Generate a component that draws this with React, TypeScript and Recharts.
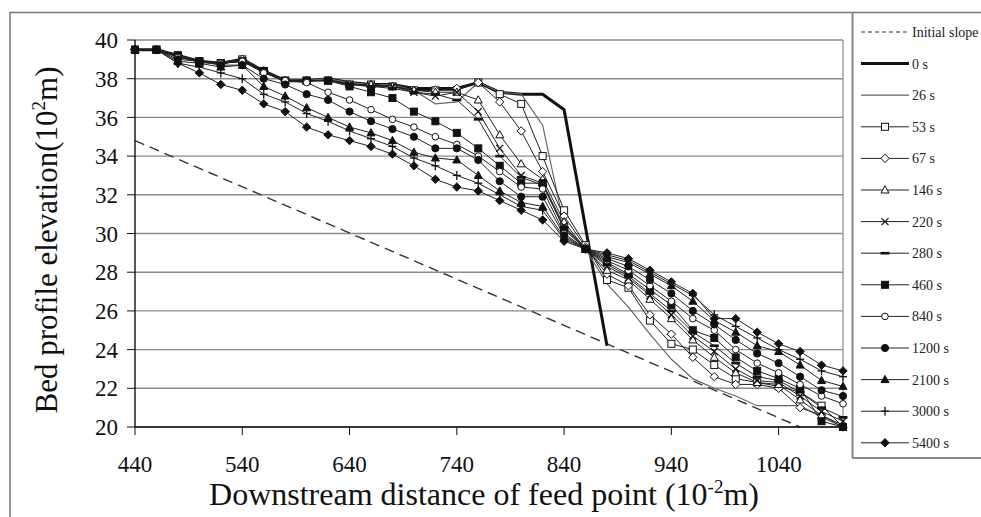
import React from 'react';
import { LineChart, Line, XAxis, YAxis, CartesianGrid, ReferenceLine } from 'recharts';

// Downstream distance categories (10^-2 m)
const X = [440, 460, 480, 500, 520, 540, 560, 580, 600, 620, 640, 660, 680, 700, 720, 740, 760,
  780, 800, 820, 840, 860, 880, 900, 920, 940, 960, 980, 1000, 1020, 1040, 1060, 1080, 1100];
const X_TICKS = [440, 540, 640, 740, 840, 940, 1040];
const Y_TICKS = [20, 22, 24, 26, 28, 30, 32, 34, 36, 38, 40];

// Initial slope (dashed straight line end points)
const SLOPE_X = [440, 1060];
const SLOPE_Y = [34.8, 20.0];

const N = null;
const t0 = [39.5, 39.5, 39.2, 38.9, 38.8, 39.0, 38.4, 37.9, 37.9, 38.0, 37.8, 37.7, 37.7, 37.5, 37.5, 37.5, 37.8, 37.3, 37.2, 37.2, 36.4, N, 24.2, N, N, N, N, N, N, N, N, N, N, N];
const t26 = [39.5, 39.5, 39.2, 38.9, 38.8, 39.0, 38.4, 37.9, 37.9, 38.0, 37.8, 37.7, 37.7, 37.4, 36.7, 36.8, 37.8, 37.3, 37.2, 35.6, 30.4, 29.2, 27.4, 26.2, 24.8, 23.5, 22.5, 22.0, 21.6, 21.1, 21.1, 21.1, 20.5, 20.0];
const t53 = [39.5, 39.5, 39.2, 38.9, 38.8, 39.0, 38.4, 37.9, 37.9, 37.9, 37.7, 37.7, 37.6, 37.4, 37.4, 37.4, 37.8, 37.2, 36.7, 34.0, 31.2, 29.4, 27.6, 27.2, 25.5, 24.3, 24.0, 23.2, 22.5, 22.3, 22.1, 21.8, 21.1, 20.0];
const t67 = [39.5, 39.5, 39.2, 38.9, 38.8, 39.0, 38.4, 37.9, 37.9, 37.9, 37.7, 37.7, 37.6, 37.4, 37.4, 37.5, 37.8, 36.8, 35.3, 33.2, 30.9, 29.3, 27.9, 27.3, 25.8, 24.8, 23.6, 22.6, 22.2, 22.2, 22.0, 21.0, 20.6, 20.0];
const t146 = [39.5, 39.5, 39.2, 38.9, 38.8, 38.9, 38.4, 37.9, 37.9, 37.9, 37.7, 37.7, 37.6, 37.4, 37.3, 37.3, 36.9, 35.1, 33.6, 32.8, 30.6, 29.2, 28.1, 27.6, 26.6, 25.6, 24.5, 23.6, 22.8, 22.3, 22.2, 21.4, 20.6, 20.1];
const t220 = [39.5, 39.5, 39.2, 38.9, 38.8, 38.9, 38.4, 37.9, 37.9, 37.9, 37.7, 37.6, 37.6, 37.3, 37.1, 37.3, 36.3, 34.4, 33.0, 32.6, 30.4, 29.2, 28.3, 27.7, 26.8, 25.8, 24.7, 23.9, 23.0, 22.4, 22.3, 21.6, 20.8, 20.3];
const t280 = [39.5, 39.5, 39.2, 38.9, 38.8, 38.9, 38.4, 37.9, 37.9, 37.9, 37.7, 37.6, 37.5, 37.3, 37.2, 36.9, 35.9, 34.0, 32.9, 32.5, 30.3, 29.2, 28.4, 27.8, 26.9, 26.0, 24.9, 24.2, 23.3, 22.6, 22.4, 21.8, 21.0, 20.5];
const t460 = [39.5, 39.5, 39.2, 38.9, 38.8, 38.9, 38.4, 37.9, 37.9, 37.9, 37.6, 37.3, 37.0, 36.3, 35.8, 35.2, 34.4, 33.5, 32.6, 32.6, 30.2, 29.2, 28.5, 27.9, 27.1, 26.3, 25.0, 24.6, 23.6, 22.9, 22.5, 22.0, 20.3, 20.0];
const t840 = [39.5, 39.5, 39.1, 38.9, 38.8, 38.9, 38.3, 37.9, 37.8, 37.3, 36.9, 36.4, 35.9, 35.5, 35.0, 34.6, 34.0, 33.2, 32.4, 32.3, 30.0, 29.2, 28.6, 28.1, 27.3, 26.5, 25.6, 25.0, 24.0, 23.3, 22.8, 22.2, 21.6, 21.2];
const t1200 = [39.5, 39.5, 39.0, 38.9, 38.7, 38.7, 38.0, 37.7, 37.2, 36.9, 36.3, 35.8, 35.4, 35.0, 34.4, 34.4, 33.8, 32.7, 31.9, 31.9, 29.9, 29.2, 28.7, 28.3, 27.6, 26.9, 26.0, 25.3, 24.5, 23.8, 23.3, 22.6, 21.9, 21.6];
const t2100 = [39.5, 39.5, 38.9, 38.8, 38.6, 38.7, 37.6, 37.1, 36.5, 36.0, 35.5, 35.2, 34.8, 34.2, 33.9, 33.8, 33.0, 32.2, 31.6, 31.4, 29.8, 29.2, 28.8, 28.5, 27.9, 27.3, 26.5, 25.5, 24.9, 24.2, 23.9, 23.2, 22.4, 22.1];
const t3000 = [39.5, 39.5, 38.8, 38.6, 38.3, 38.0, 37.2, 36.8, 36.2, 35.8, 35.3, 34.9, 34.5, 33.9, 33.5, 33.0, 32.6, 32.0, 31.4, 31.2, 29.7, 29.2, 28.9, 28.6, 28.0, 27.4, 26.8, 25.8, 25.2, 24.6, 24.0, 23.5, 22.9, 22.6];
const t5400 = [39.5, 39.5, 38.8, 38.3, 37.7, 37.4, 36.7, 36.3, 35.5, 35.1, 34.8, 34.5, 34.1, 33.5, 32.8, 32.4, 32.2, 31.7, 31.2, 30.7, 29.6, 29.2, 29.0, 28.7, 28.1, 27.5, 26.9, 25.6, 25.6, 24.9, 24.3, 23.9, 23.2, 22.9];

const SERIES = [
  { name: '0 s', values: t0, shape: 'none', stroke: '#111', width: 3 },
  { name: '26 s', values: t26, shape: 'none', stroke: '#666', width: 1.2 },
  { name: '53 s', values: t53, shape: 'sqOpen', stroke: '#222', width: 1 },
  { name: '67 s', values: t67, shape: 'diaOpen', stroke: '#222', width: 1 },
  { name: '146 s', values: t146, shape: 'triOpen', stroke: '#222', width: 1 },
  { name: '220 s', values: t220, shape: 'x', stroke: '#222', width: 1 },
  { name: '280 s', values: t280, shape: 'dash', stroke: '#222', width: 1 },
  { name: '460 s', values: t460, shape: 'sqFill', stroke: '#222', width: 1 },
  { name: '840 s', values: t840, shape: 'circOpen', stroke: '#222', width: 1 },
  { name: '1200 s', values: t1200, shape: 'circFill', stroke: '#222', width: 1 },
  { name: '2100 s', values: t2100, shape: 'triFill', stroke: '#222', width: 1 },
  { name: '3000 s', values: t3000, shape: 'plus', stroke: '#222', width: 1 },
  { name: '5400 s', values: t5400, shape: 'diaFill', stroke: '#222', width: 1 },
];

const FONT = 'Liberation Serif, Times New Roman, serif';

function Marker({ shape, cx, cy }: { shape: string; cx: number; cy: number }) {
  const s = '#111';
  const r = 3.5;
  switch (shape) {
    case 'sqOpen':
      return <rect x={cx - r} y={cy - r} width={2 * r} height={2 * r} fill="#fff" stroke={s} strokeWidth={1} />;
    case 'sqFill':
      return <rect x={cx - r} y={cy - r} width={2 * r} height={2 * r} fill={s} stroke={s} strokeWidth={1} />;
    case 'diaOpen':
      return <polygon points={`${cx},${cy - 4.2} ${cx + 4.2},${cy} ${cx},${cy + 4.2} ${cx - 4.2},${cy}`} fill="#fff" stroke={s} strokeWidth={1} />;
    case 'diaFill':
      return <polygon points={`${cx},${cy - 4.2} ${cx + 4.2},${cy} ${cx},${cy + 4.2} ${cx - 4.2},${cy}`} fill={s} stroke={s} strokeWidth={1} />;
    case 'triOpen':
      return <polygon points={`${cx},${cy - 4.2} ${cx + 4},${cy + 3} ${cx - 4},${cy + 3}`} fill="#fff" stroke={s} strokeWidth={1} />;
    case 'triFill':
      return <polygon points={`${cx},${cy - 4.2} ${cx + 4},${cy + 3} ${cx - 4},${cy + 3}`} fill={s} stroke={s} strokeWidth={1} />;
    case 'circOpen':
      return <circle cx={cx} cy={cy} r={3.3} fill="#fff" stroke={s} strokeWidth={1} />;
    case 'circFill':
      return <circle cx={cx} cy={cy} r={3.6} fill={s} stroke={s} strokeWidth={1} />;
    case 'x':
      return (
        <g stroke={s} strokeWidth={1.3}>
          <line x1={cx - 3.5} y1={cy - 3.5} x2={cx + 3.5} y2={cy + 3.5} />
          <line x1={cx - 3.5} y1={cy + 3.5} x2={cx + 3.5} y2={cy - 3.5} />
        </g>
      );
    case 'plus':
      return (
        <g stroke={s} strokeWidth={1.3}>
          <line x1={cx} y1={cy - 4.5} x2={cx} y2={cy + 4.5} />
          <line x1={cx - 4} y1={cy} x2={cx + 4} y2={cy} />
        </g>
      );
    case 'dash':
      return <line x1={cx - 4.5} y1={cy} x2={cx + 4.5} y2={cy} stroke={s} strokeWidth={2.6} />;
    default:
      return <g />;
  }
}

function makeDot(shape: string) {
  return (props: any) => {
    const { cx, cy, index } = props;
    if (shape === 'none' || cx == null || cy == null) return <g key={`d${index}`} />;
    return (
      <g key={`d${index}`}>
        <Marker shape={shape} cx={cx} cy={cy} />
      </g>
    );
  };
}

function toPoints(xs: number[], ys: (number | null)[]) {
  const out: { x: number; y: number }[] = [];
  xs.forEach((x, i) => {
    const y = ys[i];
    if (y != null) out.push({ x, y });
  });
  return out;
}

const LEG_Y0 = 32;
const LEG_DY = 31.6;

export default function App() {
  const legendItems = [
    { name: 'Initial slope', shape: 'none', dashed: true, stroke: '#333', width: 1.2 },
    ...SERIES.map((s) => ({ name: s.name, shape: s.shape, dashed: false, stroke: s.stroke, width: s.width })),
  ];
  const tickStyle = { fill: '#111', fontSize: 23, fontFamily: FONT, style: { fontFamily: FONT } };
  return (
    <div style={{ position: 'absolute', left: 0, top: 0, width: 981, height: 517, background: '#fff', overflow: 'hidden', fontFamily: FONT }}>
      <LineChart width={981} height={517} margin={{ top: 40, right: 138, bottom: 60, left: 75 }} style={{ fontFamily: FONT }}>
        <CartesianGrid horizontal vertical={false} stroke="#8a8a8a" strokeWidth={1.4} />
        <XAxis
          type="number"
          dataKey="x"
          domain={[440, 1100]}
          ticks={X_TICKS}
          height={30}
          tickSize={8}
          tickMargin={21}
          axisLine={{ stroke: '#111', strokeWidth: 1.6 }}
          tickLine={{ stroke: '#111' }}
          tick={tickStyle}
        />
        <YAxis
          type="number"
          domain={[20, 40]}
          ticks={Y_TICKS}
          width={60}
          tickSize={8}
          tickMargin={9}
          axisLine={{ stroke: '#111', strokeWidth: 1.4 }}
          tickLine={{ stroke: '#111' }}
          tick={tickStyle}
        />
        <ReferenceLine x={1100} stroke="#999" strokeWidth={1.4} />
        <Line
          data={toPoints(SLOPE_X, SLOPE_Y)}
          dataKey="y"
          type="linear"
          stroke="#333"
          strokeWidth={1.4}
          strokeDasharray="10 6"
          dot={false}
          activeDot={false}
          isAnimationActive={false}
        />
        {SERIES.map((s) => (
          <Line
            key={s.name}
            name={s.name}
            data={toPoints(X, s.values)}
            dataKey="y"
            type="linear"
            stroke={s.stroke}
            strokeWidth={s.width}
            dot={makeDot(s.shape)}
            activeDot={false}
            isAnimationActive={false}
          />
        ))}
      </LineChart>
      <svg width={981} height={517} style={{ position: 'absolute', left: 0, top: 0, pointerEvents: 'none', fontFamily: FONT }}>
        {/* outer frame */}
        <line x1={10} y1={12.5} x2={981} y2={12.5} stroke="#777" strokeWidth={1.5} />
        <line x1={10} y1={12} x2={10} y2={517} stroke="#777" strokeWidth={1.5} />
        {/* legend box */}
        <line x1={852.5} y1={12} x2={852.5} y2={458} stroke="#888" strokeWidth={2} />
        <line x1={852} y1={458} x2={981} y2={458} stroke="#888" strokeWidth={2} />
        {legendItems.map((it, i) => {
          const y = LEG_Y0 + i * LEG_DY;
          return (
            <g key={it.name}>
              <line
                x1={861}
                y1={y}
                x2={909}
                y2={y}
                stroke={it.stroke}
                strokeWidth={it.width}
                strokeDasharray={it.dashed ? '4 3' : undefined}
              />
              {it.shape !== 'none' && <Marker shape={it.shape} cx={885} cy={y} />}
              <text x={912} y={y + 5} fontSize={14} fontFamily={FONT} fill="#222">
                {it.name}
              </text>
            </g>
          );
        })}
        {/* axis titles */}
        <text transform="rotate(-90)" x={-240} y={57} textAnchor="middle" fontSize={31} fontFamily={FONT} fill="#111">
          Bed profile elevation(10<tspan dy={-12} fontSize={19}>2</tspan><tspan dy={12}>m)</tspan>
        </text>
        <text x={484} y={505} textAnchor="middle" fontSize={32} fontFamily={FONT} fill="#111">
          Downstream distance of feed point (10<tspan dy={-12} fontSize={19}>-2</tspan><tspan dy={12}>m)</tspan>
        </text>
      </svg>
    </div>
  );
}
